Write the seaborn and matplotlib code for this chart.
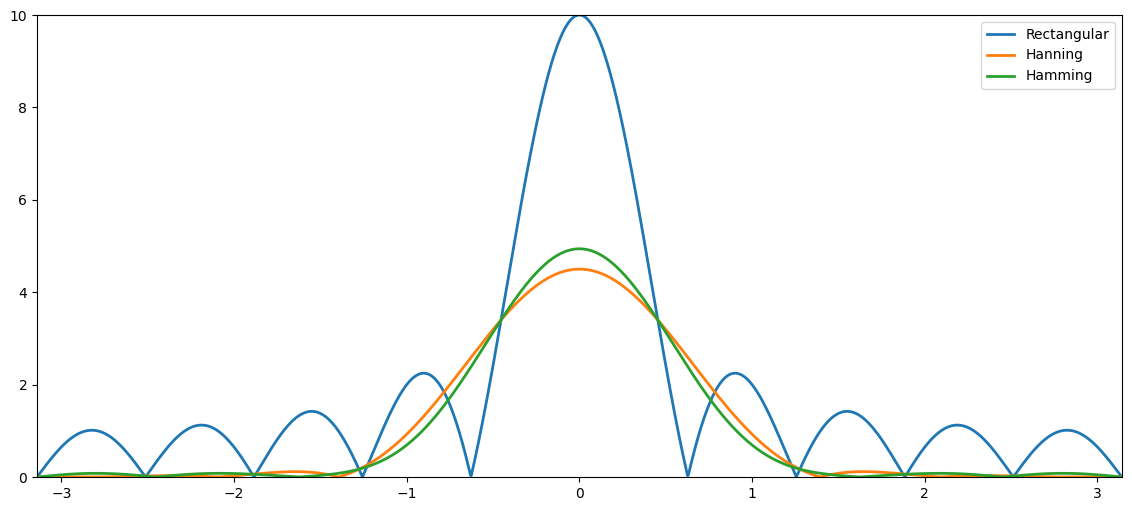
import numpy as np
import pandas as pd
import seaborn as sns
import matplotlib
matplotlib.use("Agg")
import matplotlib.pyplot as plt

# window taps (length 10)
rectangular = [1.0, 1.0, 1.0, 1.0, 1.0, 1.0, 1.0, 1.0, 1.0, 1.0]
hanning = [0.0, 0.1170, 0.4132, 0.75, 0.9698, 0.9698, 0.75, 0.4132, 0.1170, 0.0]
hamming = [0.08, 0.1876, 0.4601, 0.77, 0.9723, 0.9723, 0.77, 0.4601, 0.1876, 0.08]
names = ["Rectangular", "Hanning", "Hamming"]

w = np.linspace(-np.pi, np.pi, 1500)

frames = []
for name, taps in zip(names, [rectangular, hanning, hamming]):
    n = np.arange(len(taps))
    H = np.abs(np.exp(-1j * np.outer(w, n)) @ np.array(taps))
    frames.append(pd.DataFrame({"w": w, "mag": H, "window": name}))
df = pd.concat(frames, ignore_index=True)

fig, ax = plt.subplots(figsize=(11.32, 5.11), dpi=100)
sns.lineplot(data=df, x="w", y="mag", hue="window", hue_order=names,
             palette=["#1f77b4", "#ff7f0e", "#2ca02c"], linewidth=2,
             sort=False, errorbar=None, ax=ax)

ax.set_xlim(-np.pi, np.pi)
ax.set_ylim(0, 10)
ax.set_xlabel("")
ax.set_ylabel("")
ax.legend(loc="upper right")

plt.subplots_adjust(left=0.0327, right=0.991, top=0.9706, bottom=0.0665)
plt.savefig("out.png")
